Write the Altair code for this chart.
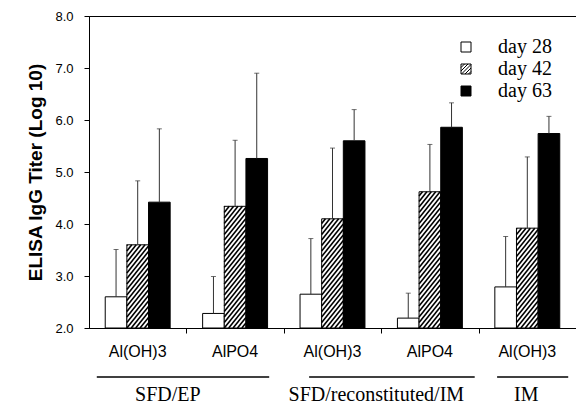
import altair as alt
import pandas as pd
import numpy as np

# ---------------- data ----------------
groups = ["Al(OH)3", "AlPO4", "Al(OH)3", "AlPO4", "Al(OH)3"]
days = ["day 28", "day 42", "day 63"]

mean_day28 = [2.60, 2.28, 2.65, 2.19, 2.79]
mean_day42 = [3.60, 4.34, 4.10, 4.62, 3.92]
mean_day63 = [4.42, 5.26, 5.60, 5.86, 5.74]

upper_day28 = [3.51, 2.99, 3.72, 2.67, 3.76]
upper_day42 = [4.83, 5.61, 5.46, 5.53, 5.29]
upper_day63 = [5.83, 6.90, 6.20, 6.33, 6.07]

super_labels = ["SFD/EP", "SFD/reconstituted/IM", "IM"]
super_text_x = [0.81, 2.95, 4.49]
super_line_start = [0.08, 2.26, 4.19]
super_line_end = [1.85, 3.96, 4.92]

y_ticks = [2, 3, 4, 5, 6, 7, 8]

# ---------------- layout ----------------
W, H = 487, 312
PX_X = W / 5.0
PX_Y = H / 6.0
BAR_W = 2.0 / 9.0
PAD = 1.0 / 6.0

means = [mean_day28, mean_day42, mean_day63]
uppers = [upper_day28, upper_day42, upper_day63]

rows = []
for i, g in enumerate(groups):
    for j, d in enumerate(days):
        x0 = i + PAD + j * BAR_W
        rows.append(dict(group=g, day=d, x0=x0, x1=x0 + BAR_W, xc=x0 + BAR_W / 2,
                         base=2.0, mean=means[j][i], upper=uppers[j][i]))
bars = pd.DataFrame(rows)

# hatch segments for the day 42 bars (derived from bar values)
hatch = []
period = 4.4
slope = 1.25
for _, r in bars[bars.day == "day 42"].iterrows():
    wpx = BAR_W * PX_X
    hpx = (r["mean"] - 2.0) * PX_Y
    kmin = int(np.floor(-hpx / slope / period)) - 1
    kmax = int(np.ceil(wpx / period)) + 1
    for k in range(kmin, kmax + 1):
        u0 = max(0.0, k * period)
        u1 = min(wpx, k * period + hpx / slope)
        if u1 - u0 <= 0.3:
            continue
        w0 = slope * (u0 - k * period)
        w1 = slope * (u1 - k * period)
        hatch.append(dict(hx0=r["x0"] + u0 / PX_X, hx1=r["x0"] + u1 / PX_X,
                          hy0=2.0 + w0 / PX_Y, hy1=2.0 + w1 / PX_Y))
hatch_df = pd.DataFrame(hatch)

group_df = pd.DataFrame({"gx": [i + 0.5 for i in range(len(groups))], "label": groups})
super_df = pd.DataFrame({"label": super_labels, "tx": super_text_x,
                         "s": super_line_start, "e": super_line_end})
legend_df = pd.DataFrame({"day": days, "px": [0.5] * 3, "py": [2.5] * 3})

HATCH_PATH = ("M-1,-1H1V1H-1Z M-1,-0.3L-0.3,-1 M-1,0.4L0.4,-1 M-0.9,1L1,-0.9 "
              "M-0.2,1L1,-0.2 M0.5,1L1,0.5")

x_scale = alt.Scale(domain=[0, 5], nice=False, zero=False)
y_scale = alt.Scale(domain=[2, 8], nice=False, zero=False)

x_axis = alt.Axis(values=[1, 2, 3, 4], labels=False, grid=False, title=None,
                  tickSize=5, domainColor="black", tickColor="black")
y_axis = alt.Axis(values=y_ticks, format=".1f", grid=False,
                  title="ELISA IgG Titer (Log 10)", titleFont="Liberation Sans",
                  titleFontWeight="bold", titleFontSize=19, titlePadding=9,
                  titleColor="black", labelFont="Liberation Sans", labelFontSize=13,
                  labelColor="black", tickSize=5, labelPadding=11,
                  domainColor="black", tickColor="black")

legend = alt.Legend(title=None, orient="none", legendX=367, legendY=21,
                    symbolSize=100, symbolStrokeWidth=1,
                    symbolOpacity=1, labelFont="Liberation Serif", labelFontSize=20,
                    labelColor="black", labelOffset=22, rowPadding=2, padding=0)

color = alt.Color("day:N", scale=alt.Scale(domain=days, range=["white", "white", "black"]),
                  legend=legend)
shape = alt.Shape("day:N", scale=alt.Scale(domain=days, range=["square", HATCH_PATH, "square"]),
                  legend=legend)

bar_layer = alt.Chart(bars).mark_bar(stroke="black", strokeWidth=1).encode(
    x=alt.X("x0:Q", scale=x_scale, axis=x_axis),
    x2="x1:Q",
    y=alt.Y("base:Q", scale=y_scale, axis=y_axis),
    y2="mean:Q",
    color=color,
)

err_layer = alt.Chart(bars).mark_rule(color="#333333", strokeWidth=1).encode(
    x=alt.X("xc:Q", scale=x_scale, axis=x_axis),
    y=alt.Y("mean:Q", scale=y_scale, axis=y_axis),
    y2="upper:Q",
)

cap_layer = alt.Chart(bars).mark_tick(orient="horizontal", size=5, thickness=1,
                                      color="#333333").encode(
    x=alt.X("xc:Q", scale=x_scale, axis=x_axis),
    y=alt.Y("upper:Q", scale=y_scale, axis=y_axis),
)

hatch_layer = alt.Chart(hatch_df).mark_rule(color="black", strokeWidth=1.6).encode(
    x=alt.X("hx0:Q", scale=x_scale, axis=x_axis),
    x2="hx1:Q",
    y=alt.Y("hy0:Q", scale=y_scale, axis=y_axis),
    y2="hy1:Q",
)

legend_layer = alt.Chart(legend_df).mark_point(filled=True, size=100, stroke="black",
                                               strokeWidth=1).encode(
    x=alt.X("px:Q", scale=x_scale, axis=x_axis),
    y=alt.Y("py:Q", scale=y_scale, axis=y_axis),
    color=color,
    shape=shape,
    opacity=alt.value(0),
)

group_text = alt.Chart(group_df).mark_text(font="Liberation Sans", fontSize=16,
                                           baseline="middle", color="black").encode(
    x=alt.X("gx:Q", scale=x_scale, axis=x_axis),
    y=alt.value(H + 24),
    text="label:N",
)

super_lines = alt.Chart(super_df).mark_rule(color="black", strokeWidth=1.6).encode(
    x=alt.X("s:Q", scale=x_scale, axis=x_axis),
    x2="e:Q",
    y=alt.value(H + 49),
)

super_text = alt.Chart(super_df).mark_text(font="Liberation Serif", fontSize=20,
                                           baseline="middle", color="black").encode(
    x=alt.X("tx:Q", scale=x_scale, axis=x_axis),
    y=alt.value(H + 67),
    text="label:N",
)

chart = alt.layer(
    bar_layer, err_layer, cap_layer, hatch_layer, legend_layer,
    group_text, super_lines, super_text,
).properties(
    width=W, height=H,
    autosize=alt.AutoSizeParams(type="none"),
    padding={"left": 81, "top": 8, "right": 0, "bottom": 82},
    background="white",
).configure_view(stroke="black", strokeWidth=1)

chart.save("out.html", embed_options={"renderer": "svg", "actions": False})
